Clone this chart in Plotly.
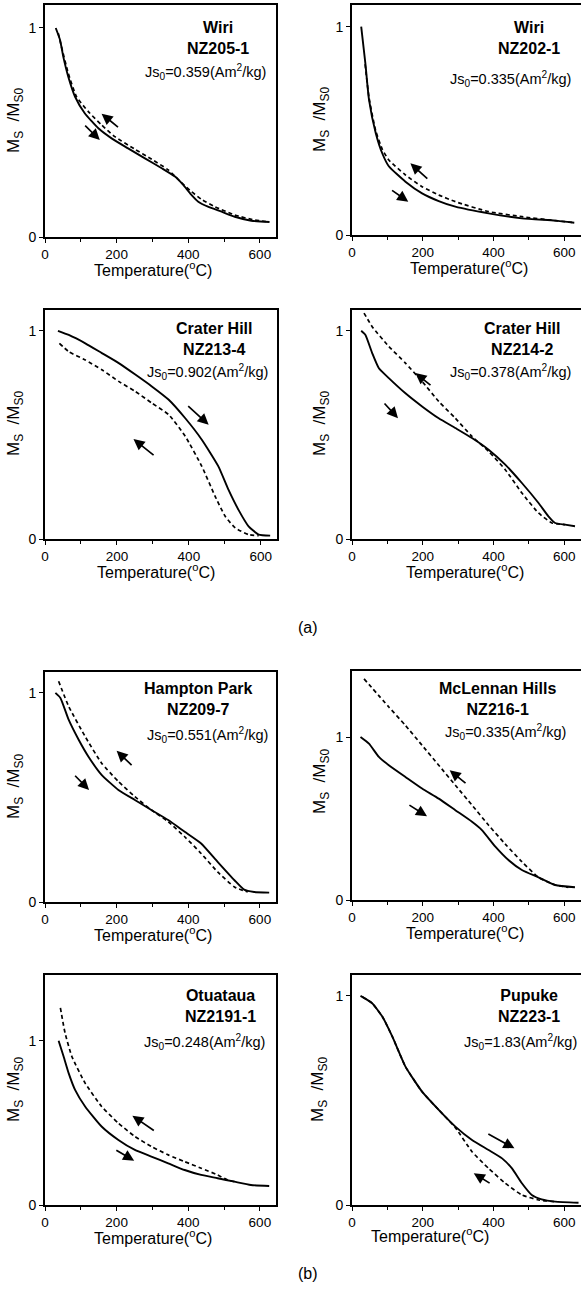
import plotly.graph_objects as go

W, H = 581, 1296
FONT = "Liberation Sans, Arial, sans-serif"

# ---------------- data (temperature in degC, normalised Ms/Ms0) ----------------
wiri205_heat_T = [30, 42, 51, 65, 84, 111, 149, 186, 232, 279, 326, 363, 386, 405, 428, 455, 493, 530, 576, 627]
wiri205_heat_M = [1.0, 0.943, 0.863, 0.767, 0.671, 0.592, 0.52, 0.472, 0.424, 0.376, 0.329, 0.289, 0.249, 0.209, 0.169, 0.145, 0.121, 0.097, 0.078, 0.072]
wiri205_cool_T = [37, 46, 65, 88, 121, 158, 195, 251, 298, 344, 381, 409, 437, 474, 530, 586, 623]
wiri205_cool_M = [0.975, 0.911, 0.783, 0.671, 0.60, 0.536, 0.48, 0.42, 0.372, 0.321, 0.26, 0.217, 0.18, 0.145, 0.105, 0.081, 0.073]

wiri202_heat_T = [26, 38, 48, 67, 86, 104, 151, 198, 245, 292, 386, 480, 574, 628]
wiri202_heat_M = [1.0, 0.82, 0.65, 0.49, 0.39, 0.33, 0.256, 0.20, 0.163, 0.136, 0.104, 0.08, 0.069, 0.059]
wiri202_cool_T = [37, 48, 67, 86, 104, 151, 198, 245, 292, 386, 480, 574, 625]
wiri202_cool_M = [0.82, 0.66, 0.50, 0.41, 0.36, 0.288, 0.232, 0.192, 0.16, 0.112, 0.088, 0.069, 0.06]

crater213_heat_T = [36, 66, 112, 158, 205, 251, 297, 344, 390, 436, 482, 510, 538, 566, 594, 626]
crater213_heat_M = [1.0, 0.98, 0.94, 0.893, 0.845, 0.79, 0.733, 0.669, 0.58, 0.477, 0.349, 0.237, 0.14, 0.061, 0.021, 0.016]
crater213_cool_T = [40, 66, 112, 158, 205, 251, 297, 344, 390, 436, 473, 501, 529, 566, 594]
crater213_cool_M = [0.94, 0.90, 0.86, 0.813, 0.757, 0.709, 0.653, 0.597, 0.493, 0.349, 0.205, 0.109, 0.053, 0.021, 0.016]

crater214_heat_T = [26, 38, 57, 76, 104, 151, 198, 245, 292, 339, 386, 433, 480, 527, 555, 574, 602, 630]
crater214_heat_M = [1.0, 0.98, 0.893, 0.82, 0.773, 0.70, 0.637, 0.58, 0.533, 0.485, 0.429, 0.357, 0.269, 0.173, 0.109, 0.077, 0.069, 0.061]
crater214_cool_T = [34, 57, 104, 151, 198, 245, 292, 339, 386, 433, 480, 527, 565, 602]
crater214_cool_M = [1.085, 1.02, 0.925, 0.845, 0.757, 0.661, 0.58, 0.493, 0.421, 0.333, 0.221, 0.125, 0.077, 0.069]

hampton_heat_T = [29, 43, 66, 94, 121, 158, 205, 251, 297, 344, 390, 436, 482, 529, 556, 584, 626]
hampton_heat_M = [1.0, 0.976, 0.872, 0.776, 0.696, 0.608, 0.536, 0.488, 0.44, 0.392, 0.336, 0.28, 0.192, 0.104, 0.059, 0.048, 0.045]
hampton_cool_T = [38, 66, 112, 158, 205, 251, 297, 344, 390, 436, 482, 529, 566]
hampton_cool_M = [1.056, 0.936, 0.792, 0.664, 0.576, 0.504, 0.44, 0.384, 0.312, 0.232, 0.144, 0.072, 0.048]

mclennan_heat_T = [24, 48, 76, 104, 151, 198, 245, 292, 339, 367, 405, 442, 480, 527, 574, 630]
mclennan_heat_M = [1.0, 0.959, 0.878, 0.827, 0.755, 0.684, 0.622, 0.551, 0.48, 0.429, 0.327, 0.245, 0.184, 0.139, 0.092, 0.078]
mclennan_cool_T = [34, 104, 151, 198, 245, 292, 339, 386, 433, 480, 527, 574, 611]
mclennan_cool_M = [1.357, 1.184, 1.071, 0.949, 0.827, 0.704, 0.582, 0.459, 0.343, 0.235, 0.139, 0.092, 0.078]

otuataua_heat_T = [38, 52, 66, 84, 112, 158, 205, 251, 297, 344, 390, 436, 482, 529, 575, 626]
otuataua_heat_M = [1.0, 0.904, 0.803, 0.701, 0.60, 0.478, 0.396, 0.335, 0.295, 0.254, 0.213, 0.183, 0.163, 0.142, 0.122, 0.116]
otuataua_cool_T = [43, 56, 75, 112, 158, 205, 251, 297, 344, 390, 436, 482, 510, 529]
otuataua_cool_M = [1.2, 1.047, 0.904, 0.742, 0.60, 0.498, 0.417, 0.356, 0.305, 0.264, 0.224, 0.183, 0.152, 0.142]

pupuke_heat_T = [24, 57, 86, 114, 151, 198, 245, 292, 339, 386, 424, 452, 480, 508, 536, 574, 640]
pupuke_heat_M = [1.0, 0.965, 0.90, 0.805, 0.662, 0.542, 0.455, 0.375, 0.311, 0.263, 0.223, 0.175, 0.104, 0.048, 0.027, 0.016, 0.011]
pupuke_cool_T = [30, 57, 86, 114, 151, 198, 245, 292, 339, 386, 433, 480, 527, 574]
pupuke_cool_M = [0.995, 0.965, 0.90, 0.805, 0.662, 0.542, 0.455, 0.37, 0.255, 0.175, 0.104, 0.048, 0.024, 0.016]

x_tick_vals = [0, 200, 400, 600]
x_tick_text = ["0", "200", "400", "600"]
x_minor_vals = [100, 300, 500]
y_tick_vals = [0, 1]
y_tick_text = ["0", "1"]

site_names = ["Wiri", "Wiri", "Crater Hill", "Crater Hill", "Hampton Park", "McLennan Hills", "Otuataua", "Pupuke"]
sample_ids = ["NZ205-1", "NZ202-1", "NZ213-4", "NZ214-2", "NZ209-7", "NZ216-1", "NZ2191-1", "NZ223-1"]
js0_values = ["0.359", "0.335", "0.902", "0.378", "0.551", "0.335", "0.248", "1.83"]

heat_series = [(wiri205_heat_T, wiri205_heat_M), (wiri202_heat_T, wiri202_heat_M),
               (crater213_heat_T, crater213_heat_M), (crater214_heat_T, crater214_heat_M),
               (hampton_heat_T, hampton_heat_M), (mclennan_heat_T, mclennan_heat_M),
               (otuataua_heat_T, otuataua_heat_M), (pupuke_heat_T, pupuke_heat_M)]
cool_series = [(wiri205_cool_T, wiri205_cool_M), (wiri202_cool_T, wiri202_cool_M),
               (crater213_cool_T, crater213_cool_M), (crater214_cool_T, crater214_cool_M),
               (hampton_cool_T, hampton_cool_M), (mclennan_cool_T, mclennan_cool_M),
               (otuataua_cool_T, otuataua_cool_M), (pupuke_cool_T, pupuke_cool_M)]

# ---------------- layout config (pixel boxes, ranges, label positions) ----------------
# box = (left, right, top, bottom) in px
panels = [
    dict(box=(45, 276, 5, 237), xr=[0, 645], yr=[0, 1.11], title=(218, 37.5), js=(205, 72), xt=(153, 237), yt=(15, 121),
         arrows=[((158, 0.59), (208, 0.52)), ((153, 0.464), (108, 0.54))]),
    dict(box=(352, 581, 5, 235), xr=[0, 647], yr=[0, 1.104], title=(529, 38), js=(510, 79), xt=(469, 235), yt=(321, 120),
         arrows=[((165, 0.344), (217, 0.264)), ((159, 0.16), (109, 0.219))]),
    dict(box=(45, 277, 310, 539), xr=[0, 645], yr=[0, 1.10], title=(213.5, 339), js=(207, 372), xt=(156, 539), yt=(15, 424),
         arrows=[((455, 0.549), (394, 0.645)), ((246, 0.48), (306, 0.397))]),
    dict(box=(352, 581, 310, 539), xr=[0, 647], yr=[0, 1.10], title=(522, 339), js=(511, 372), xt=(465, 539), yt=(321, 424),
         arrows=[((179, 0.797), (226, 0.733)), ((130, 0.58), (88, 0.658))]),
    dict(box=(45, 276, 672, 902), xr=[0, 645], yr=[0, 1.10], title=(198.5, 699), js=(207, 735), xt=(153, 902), yt=(15, 787),
         arrows=[((200, 0.723), (246, 0.648)), ((123, 0.536), (80, 0.611))]),
    dict(box=(352, 581, 671, 900), xr=[0, 647], yr=[0, 1.405], title=(497.5, 699), js=(505, 732), xt=(465, 900), yt=(321, 782),
         arrows=[((276, 0.796), (325, 0.71)), ((212, 0.514), (158, 0.588))]),
    dict(box=(45, 276, 975, 1205), xr=[0, 645], yr=[0, 1.40], title=(220.5, 1006), js=(204, 1042), xt=(153, 1205), yt=(15, 1090),
         arrows=[((244, 0.543), (308, 0.447)), ((249, 0.27), (195, 0.339))]),
    dict(box=(352, 581, 975, 1205), xr=[0, 647], yr=[0, 1.10], title=(529, 1005.5), js=(520, 1042), xt=(430, 1203), yt=(319, 1090),
         arrows=[((459, 0.271), (381, 0.343)), ((344, 0.152), (393, 0.10))]),
]


def px(x):
    return x / W


def py(y):
    return 1 - y / H


fig = go.Figure()
annotations = []
layout_axes = {}

for i, p in enumerate(panels):
    n = i + 1
    xa = "x" if n == 1 else f"x{n}"
    ya = "y" if n == 1 else f"y{n}"
    xkey = "xaxis" if n == 1 else f"xaxis{n}"
    ykey = "yaxis" if n == 1 else f"yaxis{n}"
    left, right, top, bottom = p["box"]
    right_side = right >= W

    hT, hM = heat_series[i]
    cT, cM = cool_series[i]
    fig.add_trace(go.Scatter(x=hT, y=hM, mode="lines", xaxis=xa, yaxis=ya,
                             line=dict(color="black", width=1.9, shape="spline", smoothing=0.5),
                             hoverinfo="skip"))
    fig.add_trace(go.Scatter(x=cT, y=cM, mode="lines", xaxis=xa, yaxis=ya,
                             line=dict(color="black", width=1.7, dash="4px,3px", shape="spline", smoothing=0.5),
                             hoverinfo="skip"))

    layout_axes[xkey] = dict(
        domain=[px(left), min(1.0, px(right))], range=p["xr"], anchor=ya,
        showline=True, linecolor="black", linewidth=1.6, mirror=True,
        ticks="outside", ticklen=4, tickwidth=1.4, tickcolor="black",
        tickvals=x_tick_vals, ticktext=x_tick_text, ticklabeloverflow="allow",
        minor=dict(tickvals=x_minor_vals, ticks="outside", ticklen=3, tickwidth=1.2, tickcolor="black"),
        showgrid=False, zeroline=False, fixedrange=True, automargin=False,
        tickfont=dict(family=FONT, size=13.5, color="black"),
    )
    layout_axes[ykey] = dict(
        domain=[py(bottom), py(top)], range=p["yr"], anchor=xa,
        showline=True, linecolor="black", linewidth=1.6, mirror=(not right_side),
        ticks="outside", ticklen=4, tickwidth=1.4, tickcolor="black",
        tickvals=y_tick_vals, ticktext=y_tick_text,
        showgrid=False, zeroline=False, fixedrange=True, automargin=False,
        tickfont=dict(family=FONT, size=14, color="black"),
    )

    # site / sample title
    tx, ty = p["title"]
    annotations.append(dict(xref="paper", yref="paper", x=px(tx), y=py(ty), xanchor="center", yanchor="middle",
                            text=f"<b>{site_names[i]}</b><br><b>{sample_ids[i]}</b>", showarrow=False,
                            align="center", font=dict(family=FONT, size=16, color="black")))
    jx, jy = p["js"]
    annotations.append(dict(xref="paper", yref="paper", x=px(jx), y=py(jy), xanchor="center", yanchor="middle",
                            text=f"Js<sub>0</sub>=" + js0_values[i] + "(Am<sup>2</sup>/kg)", showarrow=False,
                            font=dict(family=FONT, size=14.5, color="black")))
    # axis titles (x title: top of its box placed below the tick labels)
    xtx, xty = p["xt"]
    annotations.append(dict(xref="paper", yref="paper", x=px(xtx), y=py(xty + 20), xanchor="center", yanchor="top",
                            text="Temperature(<sup>o</sup>C)", showarrow=False,
                            font=dict(family=FONT, size=16, color="black")))
    ytx, yty = p["yt"]
    annotations.append(dict(xref="paper", yref="paper", x=px(ytx), y=py(yty), xanchor="center", yanchor="middle",
                            text="M<sub>S</sub>&nbsp; /M<sub>S0</sub>", showarrow=False, textangle=-90,
                            font=dict(family=FONT, size=17, color="black")))
    # heating / cooling arrows
    for (hx, hy), (tx_, ty_) in p["arrows"]:
        annotations.append(dict(xref=xa, yref=ya, x=hx, y=hy, axref=xa, ayref=ya, ax=tx_, ay=ty_,
                                text="", showarrow=True, arrowhead=2, arrowsize=1.3, arrowwidth=1.7,
                                arrowcolor="black"))

annotations.append(dict(xref="paper", yref="paper", x=px(308), y=py(628), text="(a)", showarrow=False,
                        xanchor="center", yanchor="middle", font=dict(family=FONT, size=16, color="black")))
annotations.append(dict(xref="paper", yref="paper", x=px(308), y=py(1273), text="(b)", showarrow=False,
                        xanchor="center", yanchor="middle", font=dict(family=FONT, size=16, color="black")))

fig.update_layout(
    width=W, height=H, margin=dict(l=0, r=0, t=0, b=0, pad=0, autoexpand=False),
    paper_bgcolor="white", plot_bgcolor="white", showlegend=False,
    annotations=annotations, **layout_axes,
)

fig.write_html("out.html", config={"displayModeBar": False, "responsive": False},
               post_script="document.body.style.margin='0px';document.body.style.padding='0px';")
